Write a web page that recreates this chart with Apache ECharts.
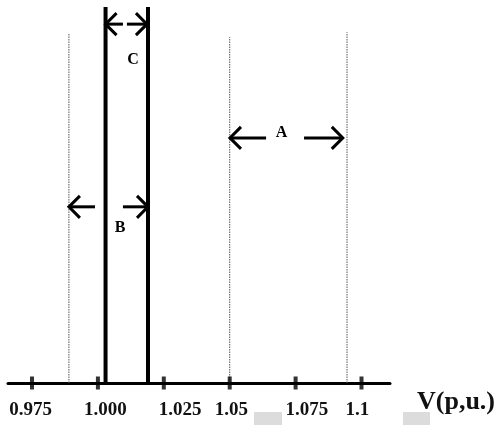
<!DOCTYPE html>
<html><head><meta charset="utf-8">
<script src="https://cdn.jsdelivr.net/npm/echarts@6/dist/echarts.min.js"></script>
<style>html,body{margin:0;padding:0;background:#fff}#c{width:502px;height:425px}</style>
</head><body><div id="c"></div>
<script>
// tick positions and their printed labels
const tickValues = [0.975, 1.000, 1.025, 1.05, 1.075, 1.1];
const tickLabels = ['0.975', '1.000', '1.025', '1.05', '1.075', '1.1'];
const labelAt = [0.9745, 1.0028, 1.0312, 1.0506, 1.0793, 1.0984];
// thin (dotted) limit lines: [x, top]
const thinLines = [[0.989, 0.914], [1.05, 0.903], [1.0945, 0.916]];
// thick limit lines: [x, top]
const thickLines = [[1.0029, 0.982], [1.019, 0.982]];
// arrows: [tailX, tipX, y]
const arrows = [
  [1.0095, 1.0029, 0.937], [1.011, 1.0186, 0.937],
  [0.9989, 0.989, 0.46], [1.0095, 1.019, 0.46],
  [1.0638, 1.0501, 0.64], [1.0782, 1.0929, 0.64]
];
// region labels: [x, y, text]
const regionLabels = [[1.0133, 0.843, 'C'], [1.0084, 0.405, 'B'], [1.0697, 0.653, 'A']];

const chart = echarts.init(document.getElementById('c'), null, {renderer: 'canvas'});
const serif = '"Liberation Serif", "DejaVu Serif", serif';

function vline(width, color, dash) {
  return function (params, api) {
    const p0 = api.coord([api.value(0), 0]);
    const p1 = api.coord([api.value(0), api.value(1)]);
    return {type: 'line', shape: {x1: p0[0], y1: p0[1], x2: p1[0], y2: p1[1]},
      style: {stroke: color, lineWidth: width, lineDash: dash}};
  };
}

chart.setOption({
  animation: false,
  grid: {left: 8, right: 112, top: 0, bottom: 42},
  xAxis: {
    type: 'value', min: 0.96589, max: 1.11081,
    splitLine: {show: false},
    axisLine: {lineStyle: {color: '#000', width: 3}},
    axisTick: {show: false},
    axisLabel: {
      customValues: labelAt,
      formatter: (v, i) => tickLabels[labelAt.indexOf(v)] ?? tickLabels[i],
      margin: 18, color: '#111', fontFamily: serif, fontWeight: 'bold', fontSize: 19
    },
    name: 'V(p,u.)', nameLocation: 'end', nameGap: 27,
    nameTextStyle: {color: '#111', fontFamily: serif, fontWeight: 'bold', fontSize: 26,
      verticalAlign: 'top', padding: [6, 0, 0, 0]}
  },
  yAxis: {type: 'value', min: 0, max: 1, show: false},
  graphic: [
    {type: 'rect', shape: {x: 254, y: 412, width: 28, height: 13}, style: {fill: '#dcdcdc'}},
    {type: 'rect', shape: {x: 403, y: 412, width: 27, height: 13}, style: {fill: '#dcdcdc'}}
  ],
  series: [
    {type: 'custom', silent: true, renderItem: vline(1, '#555', [1.5, 1]), data: thinLines},
    {type: 'custom', silent: true, renderItem: vline(4, '#000', null), data: thickLines},
    {type: 'scatter', silent: true, symbol: 'rect', symbolSize: [4, 13],
      itemStyle: {color: '#000'}, data: tickValues.map(v => [v, 0]), z: 5},
    {type: 'custom', silent: true, data: arrows,
      renderItem: function (params, api) {
        const t = api.coord([api.value(0), api.value(2)]);
        const h = api.coord([api.value(1), api.value(2)]);
        const dir = h[0] > t[0] ? 1 : -1;
        const dx = 11 * dir, dy = 11;
        return {type: 'group', children: [
          {type: 'line', shape: {x1: t[0], y1: t[1], x2: h[0], y2: h[1]},
            style: {stroke: '#000', lineWidth: 3}},
          {type: 'polyline', shape: {points: [[h[0] - dx, h[1] - dy], [h[0], h[1]], [h[0] - dx, h[1] + dy]]},
            style: {stroke: '#000', lineWidth: 3, fill: null}}
        ]};
      }},
    {type: 'custom', silent: true, data: regionLabels,
      renderItem: function (params, api) {
        const p = api.coord([api.value(0), api.value(1)]);
        return {type: 'text', x: p[0], y: p[1], style: {text: regionLabels[params.dataIndex][2],
          fill: '#000', font: 'bold 16px ' + serif, align: 'center', verticalAlign: 'middle'}};
      }}
  ]
});
</script></body></html>
